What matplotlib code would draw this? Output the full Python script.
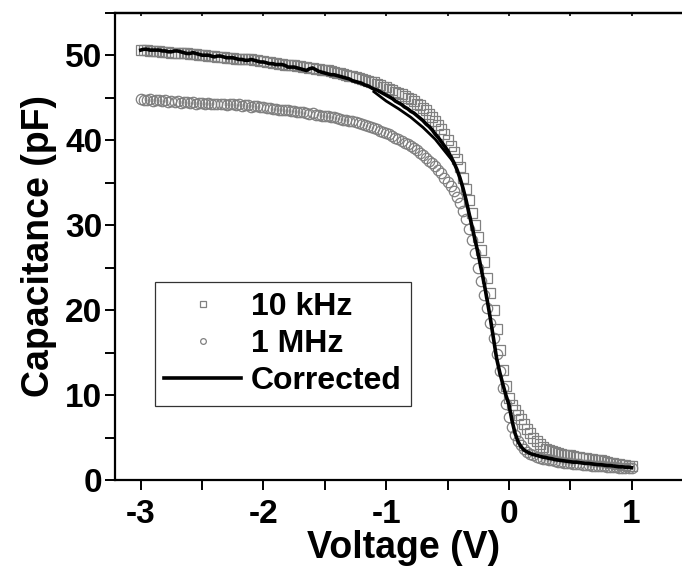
import numpy as np
import matplotlib
matplotlib.use("Agg")
import matplotlib.pyplot as plt
from matplotlib.ticker import MultipleLocator

plt.rcParams['font.family'] = ['Liberation Sans', 'DejaVu Sans']
plt.rcParams['font.weight'] = 'bold'

# bias sweep, -3 V to +1 V in 25 mV steps
voltage = np.linspace(-3.0, 1.0, 161)

cap_10khz = [
    50.6, 50.6, 50.6, 50.5, 50.5, 50.5, 50.5, 50.4, 50.4, 50.4,
    50.3, 50.3, 50.3, 50.2, 50.2, 50.2, 50.1, 50.1, 50.1, 50.0,
    50.0, 50.0, 49.9, 49.9, 49.9, 49.8, 49.8, 49.8, 49.7, 49.7,
    49.7, 49.6, 49.6, 49.5, 49.5, 49.5, 49.5, 49.4, 49.4, 49.3,
    49.3, 49.2, 49.2, 49.1, 49.1, 49.0, 49.0, 48.9, 48.9, 48.8,
    48.8, 48.7, 48.7, 48.6, 48.6, 48.5, 48.5, 48.4, 48.4, 48.3,
    48.2, 48.2, 48.1, 48.0, 47.9, 47.9, 47.8, 47.7, 47.6, 47.5,
    47.4, 47.3, 47.2, 47.1, 47.0, 46.9, 46.8, 46.6, 46.5, 46.3,
    46.2, 46.0, 45.9, 45.7, 45.6, 45.4, 45.2, 45.0, 44.8, 44.6,
    44.3, 44.1, 43.8, 43.5, 43.1, 42.7, 42.3, 41.8, 41.3, 40.7,
    40.0, 39.3, 38.6, 37.8, 36.8, 35.6, 34.3, 32.9, 31.4, 30.0,
    28.6, 27.1, 25.6, 23.8, 22.0, 20.0, 17.8, 15.3, 13.0, 11.1,
    9.6, 8.8, 8.2, 7.7, 7.2, 6.6, 6.0, 5.5, 5.0, 4.6,
    4.2, 3.9, 3.7, 3.55, 3.4, 3.3, 3.2, 3.1, 3.0, 2.95,
    2.9, 2.8, 2.75, 2.7, 2.6, 2.55, 2.5, 2.45, 2.4, 2.35,
    2.3, 2.2, 2.1, 2.05, 2.0, 1.9, 1.85, 1.8, 1.75, 1.7,
    1.6,
]

cap_1mhz = [
    44.8, 44.7, 44.7, 44.8, 44.6, 44.7, 44.7, 44.6, 44.7, 44.5,
    44.6, 44.5, 44.6, 44.4, 44.5, 44.5, 44.4, 44.5, 44.3, 44.4,
    44.4, 44.3, 44.4, 44.2, 44.3, 44.3, 44.2, 44.3, 44.1, 44.2,
    44.2, 44.1, 44.2, 44.0, 44.1, 44.1, 43.9, 44.0, 44.0, 43.9,
    43.9, 43.8, 43.8, 43.7, 43.7, 43.6, 43.6, 43.5, 43.5, 43.4,
    43.4, 43.3, 43.3, 43.3, 43.2, 43.1, 43.2, 43.0, 43.0, 42.9,
    42.9, 42.8, 42.7, 42.7, 42.6, 42.5, 42.4, 42.4, 42.3, 42.2,
    42.1, 42.0, 41.9, 41.8, 41.7, 41.6, 41.4, 41.3, 41.1, 41.0,
    40.8, 40.7, 40.5, 40.3, 40.1, 39.9, 39.7, 39.5, 39.3, 39.1,
    38.8, 38.5, 38.2, 37.9, 37.6, 37.3, 36.9, 36.5, 36.1, 35.6,
    35.1, 34.6, 34.0, 33.3, 32.6, 31.7, 30.7, 29.5, 28.3, 26.7,
    24.9, 23.4, 21.8, 20.2, 18.5, 16.7, 14.8, 12.8, 10.8, 9.0,
    7.4, 6.2, 5.3, 4.6, 4.1, 3.7, 3.3, 3.1, 2.9, 2.75,
    2.6, 2.5, 2.45, 2.4, 2.3, 2.25, 2.15, 2.1, 2.05, 2.0,
    1.95, 1.9, 1.9, 1.85, 1.8, 1.8, 1.75, 1.7, 1.65, 1.6,
    1.6, 1.6, 1.55, 1.55, 1.5, 1.5, 1.45, 1.45, 1.45, 1.4,
    1.4,
]

cap_corrected = [
    50.6, 50.7, 50.7, 50.6, 50.6, 50.6, 50.6, 50.5, 50.5, 50.4,
    50.4, 50.5, 50.5, 50.4, 50.3, 50.2, 50.2, 50.3, 50.2, 50.1,
    50.0, 50.0, 50.0, 49.9, 49.8, 49.9, 49.9, 49.8, 49.7, 49.7,
    49.7, 49.6, 49.5, 49.5, 49.4, 49.4, 49.5, 49.4, 49.3, 49.2,
    49.2, 49.1, 49.0, 49.0, 48.9, 48.9, 48.9, 48.8, 48.6, 48.6,
    48.6, 48.5, 48.4, 48.3, 48.2, 48.4, 48.5, 48.3, 48.1, 48.0,
    47.9, 47.8, 47.7, 47.7, 47.6, 47.5, 47.4, 47.3, 47.2, 47.0,
    46.9, 46.8, 46.7, 46.5, 46.4, 46.2, 46.0, 45.9, 45.7, 45.5,
    45.3, 45.1, 44.9, 44.6, 44.4, 44.2, 43.9, 43.7, 43.4, 43.2,
    42.9, 42.6, 42.3, 41.9, 41.6, 41.2, 40.7, 40.3, 39.8, 39.3,
    38.8, 38.1, 37.4, 36.6, 35.6, 34.4, 33.0, 31.4, 29.8, 28.2,
    26.6, 24.8, 23.0, 21.0, 18.9, 16.6, 14.3, 12.7, 11.3, 10.0,
    8.9, 7.0, 5.5, 4.5, 3.9, 3.5, 3.3, 3.1, 3.0, 2.9,
    2.8, 2.7, 2.65, 2.55, 2.5, 2.4, 2.35, 2.3, 2.25, 2.2,
    2.15, 2.1, 2.1, 2.05, 2.0, 1.95, 1.95, 1.9, 1.85, 1.8,
    1.8, 1.75, 1.7, 1.7, 1.65, 1.6, 1.55, 1.55, 1.5, 1.5,
    1.45,
]

# return trace of the corrected curve where it splits near the knee
loop_voltage = [-1.10, -1.00, -0.90, -0.80, -0.70, -0.60, -0.50, -0.45]
loop_cap = [45.7, 44.6, 43.7, 42.7, 41.5, 40.1, 38.3, 37.4]

fig = plt.figure(figsize=(6.82, 5.70), dpi=100)
ax = fig.add_axes([0.1686, 0.1579, 0.8475, 0.8198])

gray = '#808080'
ax.plot(voltage, cap_10khz, linestyle='none', marker='s', markersize=7,
        mfc='none', mec=gray, mew=0.9, label='10 kHz')
ax.plot(voltage, cap_1mhz, linestyle='none', marker='o', markersize=7.5,
        mfc='none', mec=gray, mew=0.9, label='1 MHz')
ax.plot(voltage, cap_corrected, color='black', linewidth=2.6, label='Corrected')
ax.plot(loop_voltage, loop_cap, color='black', linewidth=2.0)

ax.set_xlim(-3.21, 1.5)
ax.set_ylim(0, 55)

ax.xaxis.set_major_locator(MultipleLocator(1))
ax.xaxis.set_minor_locator(MultipleLocator(0.5))
ax.yaxis.set_major_locator(MultipleLocator(10))
ax.yaxis.set_minor_locator(MultipleLocator(5))
ax.xaxis.set_major_formatter(plt.FuncFormatter(lambda v, p: '%d' % round(v)))

ax.spines['right'].set_visible(False)
for side in ['left', 'bottom', 'top']:
    ax.spines[side].set_linewidth(1.6)

ax.tick_params(axis='both', which='both', direction='out', length=7, width=1.4)
ax.tick_params(axis='x', which='major', labelsize=24, pad=7)
ax.tick_params(axis='y', which='major', labelsize=24, pad=2)
ax.tick_params(axis='x', which='both', top=False)

# short inward ticks along the top edge
top = ax.secondary_xaxis('top')
top.xaxis.set_major_locator(MultipleLocator(0.5))
top.tick_params(direction='in', length=2.5, width=1.2, labeltop=False)
top.spines['top'].set_linewidth(1.6)

ax.set_xlabel('Voltage (V)', fontsize=27, fontweight='bold', labelpad=0)
ax.set_ylabel('Capacitance (pF)', fontsize=27, fontweight='bold', labelpad=6)

leg = ax.legend(loc='lower left', bbox_to_anchor=(0.069, 0.159), fontsize=23,
                frameon=True, fancybox=False, edgecolor='black',
                markerscale=0.55, handlelength=2.4, handletextpad=0.3,
                labelspacing=0.22, borderpad=0.3, borderaxespad=0)
leg.get_frame().set_linewidth(0.9)
for text in leg.get_texts():
    text.set_fontweight('bold')

fig.savefig('out.png', dpi=100)
